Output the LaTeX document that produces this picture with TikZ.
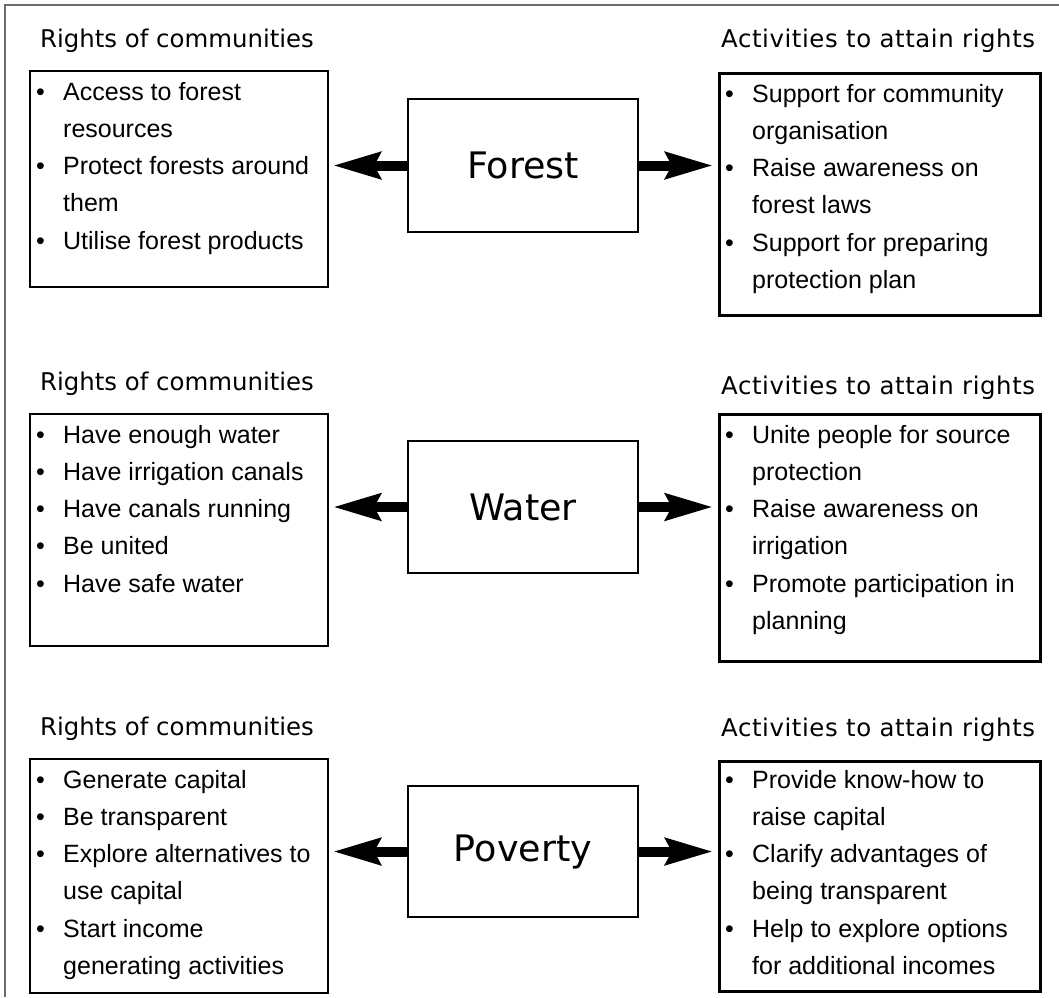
\documentclass[tikz,border=0pt]{standalone}
\usepackage{fontspec}
\setmainfont{Liberation Sans}
\newfontfamily\headfont{DejaVu Sans}
\newfontfamily\headfontsp[LetterSpace=2.4]{DejaVu Sans}
\usetikzlibrary{arrows.meta}
\newcommand\itm[1]{\makebox[27pt][l]{\textbullet}#1}
\newcommand\cnt[1]{\hspace*{27pt}#1}
\newcommand\lst[1]{\parbox[t]{320pt}{\fontsize{25}{37.3}\selectfont #1}}
\begin{document}
\begin{tikzpicture}[x=1pt,y=-1pt,
  lbox/.style={draw, line width=2pt, anchor=north west, inner sep=0pt},
  rbox/.style={draw, line width=3pt, anchor=north west, inner sep=0pt},
  cbox/.style={draw, line width=2pt, anchor=north west, inner sep=0pt, minimum width=230pt,
     font=\headfont\fontsize{36.5}{40}\selectfont},
  lhead/.style={anchor=base west, inner sep=0pt, font=\headfont\fontsize{24.4}{28}\selectfont},
  rhead/.style={anchor=base west, inner sep=0pt, font=\headfontsp\fontsize{24.4}{28}\selectfont},
  listtext/.style={anchor=base west, inner sep=0pt},
  arr/.style={line width=10pt, -{Stealth[length=47pt,width=26pt,inset=6pt]}}
]
\useasboundingbox (0,0) rectangle (1059,997);
\fill[white] (0,0) rectangle (1059,997);
% outer frame
\draw[line width=2pt, color=black!58] (1059,5) -- (5,5) -- (5,997);

% ---------------- Forest ----------------
\node[lhead] (h1l) at (40,47) {Rights of communities};
\node[rhead] (h1r) at (721,47) {Activities to attain rights};
\node[lbox, minimum width=298pt, minimum height=216pt] (fl) at (29,70) {};
\node[rbox, minimum width=321pt, minimum height=242pt] (fr) at (718,72) {};
\node[cbox, minimum height=133pt] (forest) at (407,98) {Forest};
\node[listtext] (flt) at (36,100) {\lst{\itm{Access to forest}\\ \cnt{resources}\\ \itm{Protect forests around}\\ \cnt{them}\\ \itm{Utilise forest products}}};
\node[listtext] (frt) at (725,102) {\lst{\itm{Support for community}\\ \cnt{organisation}\\ \itm{Raise awareness on}\\ \cnt{forest laws}\\ \itm{Support for preparing}\\ \cnt{protection plan}}};
\draw[arr, shorten >=4pt] (forest.west) -- (forest.west -| fl.east);
\draw[arr, shorten >=5pt] (forest.east) -- (forest.east -| fr.west);

% ---------------- Water ----------------
\node[lhead] (h2l) at (40,390) {Rights of communities};
\node[rhead] (h2r) at (721,394) {Activities to attain rights};
\node[lbox, minimum width=298pt, minimum height=232pt] (wl) at (29,413) {};
\node[rbox, minimum width=321pt, minimum height=247pt] (wr) at (718,413) {};
\node[cbox, minimum height=132pt] (water) at (407,440) {Water};
\node[listtext] (wlt) at (36,443) {\lst{\itm{Have enough water}\\ \itm{Have irrigation canals}\\ \itm{Have canals running}\\ \itm{Be united}\\ \itm{Have safe water}}};
\node[listtext] (wrt) at (725,443) {\lst{\itm{Unite people for source}\\ \cnt{protection}\\ \itm{Raise awareness on}\\ \cnt{irrigation}\\ \itm{Promote participation in}\\ \cnt{planning}}};
\draw[arr, shorten >=4pt] (water.west) -- (water.west -| wl.east);
\draw[arr, shorten >=5pt] (water.east) -- (water.east -| wr.west);

% ---------------- Poverty ----------------
\node[lhead] (h3l) at (40,735) {Rights of communities};
\node[rhead] (h3r) at (721,736) {Activities to attain rights};
\node[lbox, minimum width=298pt, minimum height=234pt] (pl) at (29,758) {};
\node[rbox, minimum width=321pt, minimum height=230pt] (pr) at (718,760) {};
\node[cbox, minimum height=131pt] (poverty) at (407,785) {Poverty};
\node[listtext] (plt) at (36,788) {\lst{\itm{Generate capital}\\ \itm{Be transparent}\\ \itm{Explore alternatives to}\\ \cnt{use capital}\\ \itm{Start income}\\ \cnt{generating activities}}};
\node[listtext] (prt) at (725,788) {\lst{\itm{Provide know-how to}\\ \cnt{raise capital}\\ \itm{Clarify advantages of}\\ \cnt{being transparent}\\ \itm{Help to explore options}\\ \cnt{for additional incomes}}};
\draw[arr, shorten >=4pt] (poverty.west) -- (poverty.west -| pl.east);
\draw[arr, shorten >=5pt] (poverty.east) -- (poverty.east -| pr.west);
\end{tikzpicture}
\end{document}
